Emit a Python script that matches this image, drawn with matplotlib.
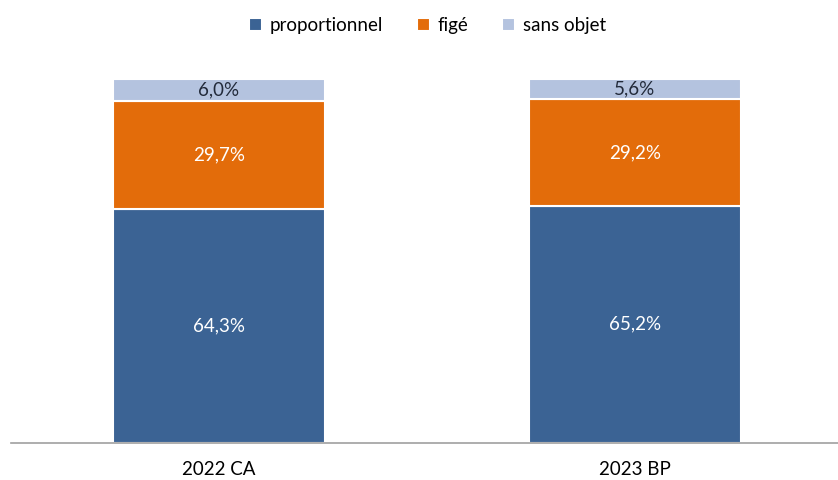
import matplotlib
matplotlib.use("Agg")
import matplotlib.pyplot as plt
import numpy as np

categories = ["2022 CA", "2023 BP"]
series_names = ["proportionnel", "figé", "sans objet"]
proportionnel = [64.3, 65.2]
fige = [29.7, 29.2]
sans_objet = [6.0, 5.6]

colors = ["#3B6394", "#E36C0A", "#B4C3DF"]
text_colors = ["white", "white", "#222A3A"]

plt.rcParams['font.family'] = ['Lato', 'DejaVu Sans']

fig = plt.figure(figsize=(8.38, 4.8), dpi=100)
ax = fig.add_axes([11/838, 37/480, 832/838, 364/480])

x = np.arange(len(categories))
bottom = np.zeros(len(categories))
for vals, name, c, tc in zip([proportionnel, fige, sans_objet], series_names, colors, text_colors):
    vals = np.array(vals)
    ax.bar(x, vals, width=0.51, bottom=bottom, color=c, edgecolor="white",
           linewidth=1.5, label=name)
    for xi, b, v in zip(x, bottom, vals):
        ax.text(xi, b + v / 2, f"{v:.1f}".replace(".", ",") + "%", ha="center", va="center",
                color=tc, fontsize=13.5)
    bottom += vals

ax.set_xlim(-0.5, 1.5)
ax.set_ylim(0, 100)
ax.set_xticks(x)
ax.set_xticklabels(categories, fontsize=13.5)
ax.tick_params(axis="x", length=0, pad=13)
ax.set_yticks([])
for s in ["top", "right", "left"]:
    ax.spines[s].set_visible(False)
ax.spines["bottom"].set_color("#A0A0A0")
ax.spines["bottom"].set_linewidth(1.2)

fig.legend(loc="upper center", bbox_to_anchor=(0.51, 1.0), ncol=3, frameon=False,
           fontsize=13.5, handlelength=0.7, handleheight=0.7, handletextpad=0.4,
           columnspacing=1.8)

fig.savefig("out.png", dpi=100)
